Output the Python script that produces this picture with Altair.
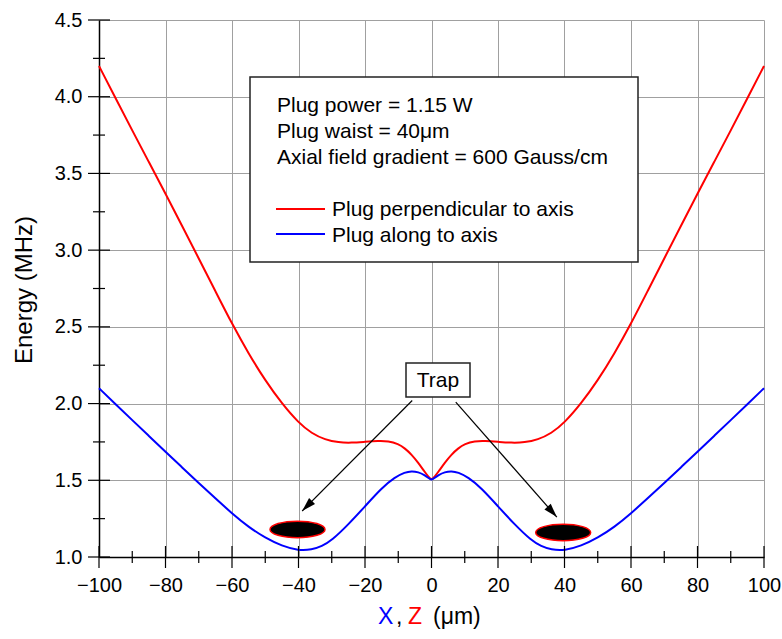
import altair as alt
import pandas as pd

# ---------------- data ----------------
red_x = [-100, -95, -90, -85, -80, -75, -70, -65, -60, -55, -50, -45, -40, -36, -32, -28, -24, -20, -16, -13,
         -10, -8, -6, -4, -2, -1, 0, 1, 2, 4, 6, 8, 10, 13, 16, 20, 24, 28, 32, 36, 40, 45, 50, 55, 60, 65,
         70, 75, 80, 85, 90, 95, 100]
red_y = [4.20, 3.99, 3.78, 3.574, 3.368, 3.158, 2.946, 2.733, 2.52, 2.325, 2.15, 2.0, 1.875, 1.805, 1.765, 1.746,
         1.744, 1.751, 1.757, 1.756, 1.737, 1.708, 1.668, 1.615, 1.553, 1.525, 1.50, 1.525, 1.553, 1.615, 1.668,
         1.708, 1.737, 1.756, 1.757, 1.751, 1.744, 1.746, 1.765, 1.805, 1.875, 2.0, 2.15, 2.325, 2.52, 2.733,
         2.946, 3.158, 3.368, 3.574, 3.78, 3.99, 4.20]

blue_x = [-100, -95, -90, -85, -80, -75, -70, -65, -60, -55, -50, -45, -40, -36, -33, -30, -25, -20, -15, -11,
          -8, -6, -4, -2, -1, 0, 1, 2, 4, 6, 8, 11, 15, 20, 25, 30, 33, 36, 40, 45, 50, 55, 60, 65, 70, 75, 80,
          85, 90, 95, 100]
blue_y = [2.10, 1.996, 1.892, 1.789, 1.686, 1.584, 1.482, 1.382, 1.284, 1.195, 1.125, 1.072, 1.042, 1.048,
          1.07, 1.108, 1.212, 1.33, 1.45, 1.52, 1.552, 1.56, 1.554, 1.533, 1.517, 1.50, 1.517, 1.533, 1.554,
          1.56, 1.552, 1.52, 1.45, 1.33, 1.212, 1.108, 1.07, 1.048, 1.042, 1.072, 1.125, 1.195, 1.284, 1.382,
          1.482, 1.584, 1.686, 1.789, 1.892, 1.996, 2.10]

trap_x = [-40.3, 39.6]
trap_y = [1.18, 1.16]

arrow_x0 = [-5.8, 7.3]
arrow_y0 = [2.02, 2.01]
arrow_x1 = [-38.9, 37.7]
arrow_y1 = [1.30, 1.26]
arrow_angle = [225, 138.5]

x_major = [-100, -80, -60, -40, -20, 0, 20, 40, 60, 80, 100]
x_minor = [-90, -70, -50, -30, -10, 10, 30, 50, 70, 90]
y_major = [1.0, 1.5, 2.0, 2.5, 3.0, 3.5, 4.0, 4.5]
y_minor = [1.25, 1.75, 2.25, 2.75, 3.25, 3.75, 4.25]
y_grid = [1.0, 1.25, 1.5, 1.75, 2.0, 2.25, 2.5, 2.75, 3.0, 3.25, 3.5, 3.75, 4.0, 4.25, 4.5]

info_lines = ["Plug power = 1.15 W", "Plug waist = 40\u03bcm", "Axial field gradient = 600 Gauss/cm"]
series_labels = ["Plug perpendicular to axis", "Plug along to axis"]

# ---------------- chart ----------------
W, H = 665, 537
FONT = "Liberation Sans"

xs = alt.Scale(domain=[-100, 100], nice=False, zero=False)
ys = alt.Scale(domain=[1.0, 4.5], nice=False, zero=False)

x_axis = alt.Axis(values=x_major, grid=True, gridColor="#a0a0a0", gridWidth=1, domainColor="black",
                  domainWidth=1.5, ticks=False, tickSize=0, labelFontSize=20, labelFont=FONT,
                  labelColor="black", labelPadding=18, title=None, labelFlush=False)
y_axis = alt.Axis(values=y_grid, grid=True, gridColor="#a0a0a0", gridWidth=1, domainColor="black",
                  domainWidth=1.5, ticks=False, tickSize=0, labelFontSize=20, labelFont=FONT,
                  labelColor="black", labelPadding=17, title=None, labelFlush=False,
                  labelExpr="abs(datum.value*2 - round(datum.value*2)) < 0.001 ? format(datum.value, '.1f') : ''")

red_df = pd.DataFrame({"x": red_x, "y": red_y})
blue_df = pd.DataFrame({"x": blue_x, "y": blue_y})

red_line = alt.Chart(red_df).mark_line(color="#ff0000", strokeWidth=2, interpolate="basis").encode(
    x=alt.X("x:Q", scale=xs, axis=x_axis), y=alt.Y("y:Q", scale=ys, axis=y_axis))
blue_line = alt.Chart(blue_df).mark_line(color="#0000ff", strokeWidth=2, interpolate="basis").encode(
    x=alt.X("x:Q", scale=xs), y=alt.Y("y:Q", scale=ys))

# tick marks crossing the axes
def xticks(vals, half):
    return alt.Chart(pd.DataFrame({"x": vals})).mark_rule(color="black", strokeWidth=1.2).encode(
        x=alt.X("x:Q", scale=xs), y=alt.value(H - half), y2=alt.value(H + half))

def yticks(vals, half):
    return alt.Chart(pd.DataFrame({"y": vals})).mark_rule(color="black", strokeWidth=1.2).encode(
        y=alt.Y("y:Q", scale=ys), x=alt.value(-half), x2=alt.value(half))

# legend / info box
one = pd.DataFrame({"a": [0]})
box = alt.Chart(one).mark_rect(fill="white", stroke="#222222", strokeWidth=1.5).encode(
    x=alt.value(151), x2=alt.value(539), y=alt.value(57), y2=alt.value(242))

def txt(s, x, y, size=21, color="black", align="left", angle=None):
    kw = dict(font=FONT, fontSize=size, color=color, align=align, baseline="alphabetic")
    if angle is not None:
        kw["angle"] = angle
    return alt.Chart(pd.DataFrame({"t": [s]})).mark_text(**kw).encode(
        x=alt.value(x), y=alt.value(y), text="t:N")

info = [txt(info_lines[0], 178, 92), txt(info_lines[1], 178, 118), txt(info_lines[2], 178, 144),
        txt(series_labels[0], 233, 196), txt(series_labels[1], 233, 222)]

leg_red = alt.Chart(one).mark_rule(color="#ff0000", strokeWidth=2).encode(
    x=alt.value(177), x2=alt.value(226), y=alt.value(189))
leg_blue = alt.Chart(one).mark_rule(color="#0000ff", strokeWidth=2).encode(
    x=alt.value(177), x2=alt.value(226), y=alt.value(214))

# trap label
trap_box = alt.Chart(one).mark_rect(fill="white", stroke="#222222", strokeWidth=1.5).encode(
    x=alt.value(307), x2=alt.value(371), y=alt.value(343), y2=alt.value(377))
trap_txt = txt("Trap", 339, 367, size=21, align="center")

arrow_df = pd.DataFrame({"x0": arrow_x0, "y0": arrow_y0, "x1": arrow_x1, "y1": arrow_y1, "ang": arrow_angle})
arrow_lines = alt.Chart(arrow_df).mark_rule(color="black", strokeWidth=1.2).encode(
    x=alt.X("x0:Q", scale=xs), y=alt.Y("y0:Q", scale=ys), x2="x1:Q", y2="y1:Q")
arrow_heads = alt.Chart(arrow_df).mark_point(
    shape="M0,0 L0.3,1 L-0.3,1 Z", filled=True, color="black", opacity=1, size=784).encode(
    x=alt.X("x1:Q", scale=xs), y=alt.Y("y1:Q", scale=ys), angle=alt.Angle("ang:Q", scale=None))

trap_df = pd.DataFrame({"x": trap_x, "y": trap_y})
ellipses = alt.Chart(trap_df).mark_point(
    shape="M-1,0 A1,0.3,0,1,1,1,0 A1,0.3,0,1,1,-1,0 Z", filled=True, fill="black", stroke="#ff0000",
    strokeWidth=1.5, opacity=1, size=3025).encode(
    x=alt.X("x:Q", scale=xs), y=alt.Y("y:Q", scale=ys))

# axis titles
xt = [txt("X", 279, 604, size=23, color="#0000ff"), txt(",", 297, 604, size=23),
      txt("Z", 309, 604, size=23, color="#ff0000"), txt("(\u03bcm)", 334, 604, size=23)]
yt = txt("Energy (MHz)", -67, 270, size=24, align="center", angle=270)

chart = alt.layer(
    red_line, blue_line,
    xticks(x_major, 11), xticks(x_minor, 6), yticks(y_major, 11), yticks(y_minor, 6),
    box, *info, leg_red, leg_blue,
    arrow_lines, arrow_heads, trap_box, trap_txt, ellipses,
    *xt, yt,
).properties(
    width=W, height=H,
    autosize=alt.AutoSizeParams(type="none"),
    padding={"left": 99, "top": 20, "right": 18, "bottom": 82},
).configure_view(stroke=None)

chart.save("out.html", embed_options={"renderer": "svg", "actions": False})
